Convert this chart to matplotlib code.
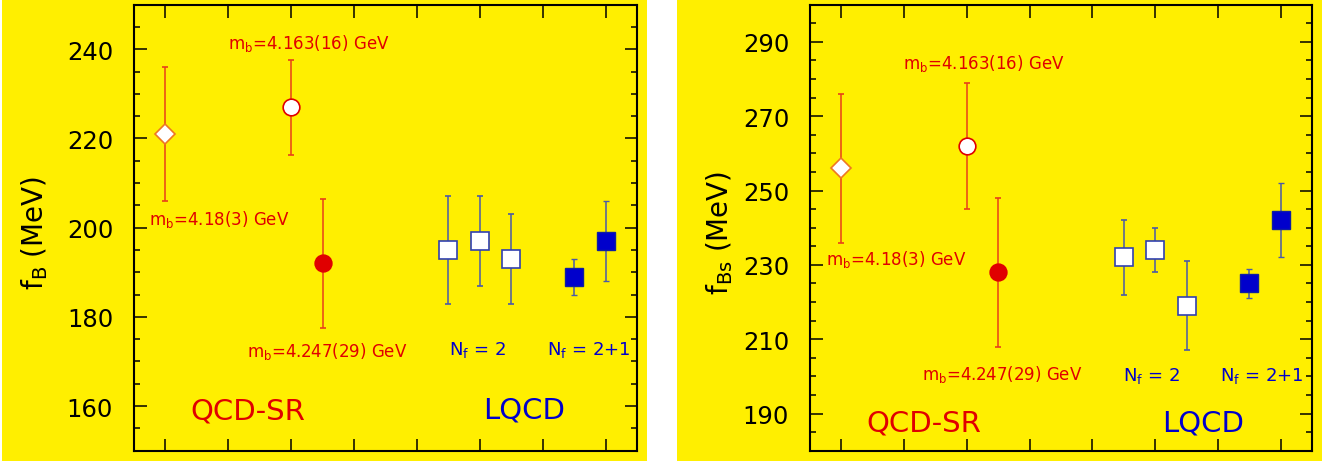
import matplotlib.pyplot as plt
from matplotlib.patches import Rectangle
from matplotlib.ticker import MultipleLocator

# positions along the (unlabelled) x axis
sr_x = [1, 3, 3.5]
lq2_x = [5.5, 6, 6.5]
lq21_x = [7.5, 8]

# f_B (MeV)
fb_sr = [221, 227, 192]
fb_sr_err = [15, 10.6, 14.5]
fb_lq2 = [195, 197, 193]
fb_lq2_err = [12, 10, 10]
fb_lq21 = [189, 197]
fb_lq21_err = [4, 9]

# f_Bs (MeV)
fbs_sr = [256, 262, 228]
fbs_sr_err = [20, 17, 20]
fbs_lq2 = [232, 234, 219]
fbs_lq2_err = [10, 6, 12]
fbs_lq21 = [225, 242]
fbs_lq21_err = [4, 10]

mb_labels = [r'm$_\mathregular{b}$=4.18(3) GeV',
             r'm$_\mathregular{b}$=4.163(16) GeV',
             r'm$_\mathregular{b}$=4.247(29) GeV']
nf_labels = [r'N$_\mathregular{f}$ = 2', r'N$_\mathregular{f}$ = 2+1']

YELLOW = '#FFEF00'
RED = '#E00000'
RED_BAR = '#E8401A'
BLUE = '#0000CC'
BLUE_BAR = '#4A5AA8'

fig = plt.figure(figsize=(13.35, 4.64), dpi=100)
fig.add_artist(Rectangle((2/1335, 0.004), 645/1335, 0.996, transform=fig.transFigure,
                         facecolor=YELLOW, edgecolor='none', zorder=-10))
fig.add_artist(Rectangle((677/1335, 0.004), 645/1335, 0.996, transform=fig.transFigure,
                         facecolor=YELLOW, edgecolor='none', zorder=-10))

ax1 = fig.add_axes([134/1335, 12.3/464, 503/1335, 446/464])
ax2 = fig.add_axes([810/1335, 12.3/464, 502/1335, 446/464])


def draw_panel(ax, sr, sr_err, lq2, lq2_err, lq21, lq21_err):
    ax.set_facecolor(YELLOW)
    # QCD sum rules
    styles = [dict(marker='D', ms=9.8, mfc='white', mec='#EE7722'),
              dict(marker='o', ms=12, mfc='white', mec=RED),
              dict(marker='o', ms=12, mfc=RED, mec=RED)]
    for x, y, e, st in zip(sr_x, sr, sr_err, styles):
        ax.errorbar([x], [y], yerr=[e], ecolor=RED_BAR, elinewidth=1.1,
                    capsize=2, capthick=1.1, ls='none', mew=1.2, zorder=3, **st)
    # lattice
    ax.errorbar(lq2_x, lq2, yerr=lq2_err, ecolor=BLUE_BAR, elinewidth=1.1,
                capsize=2, capthick=1.1, ls='none', marker='s', ms=12.5,
                mfc='white', mec='#3040B0', mew=1.2, zorder=3)
    ax.errorbar(lq21_x, lq21, yerr=lq21_err, ecolor=BLUE_BAR, elinewidth=1.1,
                capsize=2, capthick=1.1, ls='none', marker='s', ms=12.5,
                mfc=BLUE, mec='#1020A0', mew=1.0, zorder=3)

    ax.set_xlim(0.5, 8.5)
    ax.set_xticks(range(1, 9))
    ax.set_xticklabels([])
    ax.yaxis.set_minor_locator(MultipleLocator(5))
    ax.tick_params(which='both', direction='in', top=True, right=True,
                   width=1.1, color='black')
    ax.tick_params(which='major', length=9, labelsize=17.5, pad=15)
    ax.tick_params(which='minor', length=4.5)
    for sp in ax.spines.values():
        sp.set_linewidth(1.5)


draw_panel(ax1, fb_sr, fb_sr_err, fb_lq2, fb_lq2_err, fb_lq21, fb_lq21_err)
ax1.set_ylim(150, 250)
ax1.set_yticks([160, 180, 200, 220, 240])
ax1.set_ylabel(r'f$_\mathregular{B}$ (MeV)', fontsize=20)
ax1.yaxis.set_label_coords(-0.167, 0.49)
ax1.text(0.74, 200.9, mb_labels[0], color=RED, fontsize=12)
ax1.text(1.99, 240.3, mb_labels[1], color=RED, fontsize=12)
ax1.text(2.3, 171.3, mb_labels[2], color=RED, fontsize=12)
ax1.text(5.51, 171.7, nf_labels[0], color=BLUE, fontsize=13)
ax1.text(7.07, 171.7, nf_labels[1], color=BLUE, fontsize=13)
ax1.text(2.31, 157.3, 'QCD-SR', color=RED, fontsize=21, ha='center')
ax1.text(6.71, 157.4, 'LQCD', color=BLUE, fontsize=21, ha='center')

draw_panel(ax2, fbs_sr, fbs_sr_err, fbs_lq2, fbs_lq2_err, fbs_lq21, fbs_lq21_err)
ax2.set_ylim(180, 300)
ax2.set_yticks([190, 210, 230, 250, 270, 290])
ax2.set_ylabel(r'f$_\mathregular{Bs}$ (MeV)', fontsize=20)
ax2.yaxis.set_label_coords(-0.149, 0.49)
ax2.text(0.75, 230.1, mb_labels[0], color=RED, fontsize=12)
ax2.text(1.98, 282.9, mb_labels[1], color=RED, fontsize=12)
ax2.text(2.28, 199.4, mb_labels[2], color=RED, fontsize=12)
ax2.text(5.49, 199.1, nf_labels[0], color=BLUE, fontsize=13)
ax2.text(7.03, 199.1, nf_labels[1], color=BLUE, fontsize=13)
ax2.text(2.32, 185.5, 'QCD-SR', color=RED, fontsize=21, ha='center')
ax2.text(6.77, 185.5, 'LQCD', color=BLUE, fontsize=21, ha='center')

fig.savefig('out.png', dpi=100)
